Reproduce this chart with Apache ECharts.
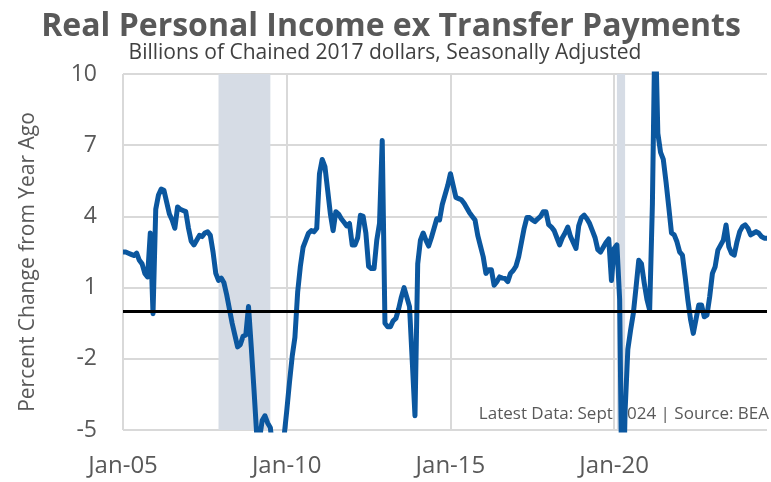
<!DOCTYPE html>
<html><head><meta charset="utf-8">
<script src="https://cdn.jsdelivr.net/npm/echarts@6/dist/echarts.min.js"></script>
<style>html,body{margin:0;padding:0;background:#fff}#c{width:771px;height:482px}</style>
</head><body><div id="c"></div>
<script>
// ---- data ----
const startYear = 2005;
const monthNames = ['Jan','Feb','Mar','Apr','May','Jun','Jul','Aug','Sep','Oct','Nov','Dec'];
// Year-over-year % change, monthly Jan-2005 .. Sep-2024
const values = [
  2.5, 2.5, 2.45, 2.4, 2.35, 2.45, 2.15, 2.0, 1.6, 1.45, 3.3, -0.1,      // 2005
  4.3, 4.9, 5.15, 5.1, 4.6, 4.1, 3.85, 3.5, 4.4, 4.3, 4.25, 4.2,        // 2006
  3.5, 2.95, 2.8, 3.0, 3.2, 3.15, 3.3, 3.35, 3.2, 2.5, 1.6, 1.3,        // 2007
  1.4, 1.2, 0.7, 0.1, -0.5, -1.0, -1.5, -1.4, -1.05, -1.0, 0.2, -1.5,   // 2008
  -3.3, -5.2, -5.4, -4.6, -4.4, -4.7, -4.9, -6.0, -6.6, -6.4, -6.0, -5.3, // 2009
  -4.2, -3.0, -1.9, -1.1, 0.8, 1.9, 2.7, 3.0, 3.3, 3.4, 3.35, 3.5,      // 2010
  5.8, 6.4, 6.1, 5.1, 4.1, 3.4, 4.2, 4.1, 3.9, 3.75, 3.6, 3.7,          // 2011
  2.8, 2.8, 3.1, 4.05, 4.0, 3.3, 1.9, 1.8, 1.8, 3.0, 3.7, 7.2,          // 2012
  -0.5, -0.65, -0.65, -0.4, -0.3, 0.1, 0.6, 1.0, 0.6, 0.2, -2.1, -4.4,  // 2013
  2.0, 3.0, 3.3, 3.0, 2.75, 3.1, 3.5, 3.9, 3.85, 4.5, 4.9, 5.3,         // 2014
  5.8, 5.3, 4.8, 4.75, 4.7, 4.55, 4.35, 4.15, 4.0, 3.85, 3.2, 2.75,     // 2015
  2.3, 1.6, 1.75, 1.75, 1.1, 1.25, 1.45, 1.4, 1.38, 1.25, 1.6, 1.72,    // 2016
  1.9, 2.3, 2.9, 3.5, 3.95, 3.95, 3.85, 3.78, 3.9, 4.0, 4.2, 4.2,       // 2017
  3.65, 3.55, 3.4, 3.1, 2.8, 3.1, 3.3, 3.55, 3.15, 2.9, 2.65, 3.6,      // 2018
  3.95, 4.05, 3.9, 3.7, 3.4, 3.1, 2.6, 2.5, 2.7, 2.9, 3.05, 1.3,        // 2019
  2.65, 2.8, 0.5, -9.5, -4.2, -1.6, -0.8, -0.1, 1.0, 2.15, 2.0, 1.2,    // 2020
  0.5, 0.05, 4.5, 12.5, 7.5, 6.7, 6.4, 5.45, 4.4, 3.3, 3.22, 2.93,      // 2021
  2.5, 2.37, 1.46, 0.48, -0.36, -0.93, -0.32, 0.27, 0.27, -0.23, -0.16, 0.62, // 2022
  1.6, 1.88, 2.58, 2.79, 3.0, 3.64, 2.72, 2.44, 2.37, 2.93, 3.36, 3.57, // 2023
  3.64, 3.5, 3.22, 3.29, 3.36, 3.29, 3.15, 3.08, 3.08                   // 2024
];
const yTicks = [-5, -2, 1, 4, 7, 10];
const xLabelYears = [2005, 2010, 2015, 2020];
const recessions = [['2007-12', '2009-07'], ['2020-02', '2020-05']];

// categories 'YYYY-MM'
const categories = values.map(function (_, i) {
  const y = startYear + Math.floor(i / 12), m = i % 12 + 1;
  return y + '-' + (m < 10 ? '0' + m : m);
});
function isLabelIdx(i) {
  const c = categories[i];
  return c.slice(5) === '01' && xLabelYears.indexOf(+c.slice(0, 4)) >= 0;
}

const FONT = '"Open Sans"';
const chart = echarts.init(document.getElementById('c'), null, { renderer: 'canvas' });
chart.setOption({
  animation: false,
  backgroundColor: '#fff',
  textStyle: { fontFamily: FONT },
  graphic: [
    { type: 'text', x: 391, y: 11, style: { text: 'Real Personal Income ex Transfer Payments', font: 'bold 32px ' + FONT, fill: '#595959', align: 'center', verticalAlign: 'top' } },
    { type: 'text', x: 385, y: 43, style: { text: 'Billions of Chained 2017 dollars, Seasonally Adjusted', font: '21px ' + FONT, fill: '#404040', align: 'center', verticalAlign: 'top' } },
    { type: 'text', right: 2, top: 406, style: { text: 'Latest Data: Sept 2024 | Source: BEA', font: '17px ' + FONT, fill: '#595959' } },
    { type: 'text', x: 28, y: 262, rotation: Math.PI / 2, style: { text: 'Percent Change from Year Ago', font: '21px ' + FONT, fill: '#595959', align: 'center', verticalAlign: 'middle' } }
  ],
  grid: { left: 123, right: 4, top: 74, bottom: 52 },
  xAxis: {
    type: 'category', data: categories, boundaryGap: false,
    axisLine: { show: false }, axisTick: { show: false },
    axisLabel: {
      interval: function (i) { return isLabelIdx(i); },
      formatter: function (v) { return monthNames[+v.slice(5) - 1] + '-' + v.slice(2, 4); },
      fontSize: 24, color: '#595959', margin: 24, fontFamily: FONT
    },
    splitLine: { show: true, interval: function (i) { return isLabelIdx(i); }, lineStyle: { color: '#d9d9d9', width: 2 } }
  },
  yAxis: [
    { type: 'value', min: yTicks[0], max: yTicks[yTicks.length - 1], show: false },
    {
      type: 'value', position: 'left',
      min: 0, max: yTicks[yTicks.length - 1] - yTicks[0], interval: yTicks[1] - yTicks[0],
      axisLine: { show: false }, axisTick: { show: false },
      axisLabel: { formatter: function (v) { return String(v + yTicks[0]); }, fontSize: 23, color: '#595959', margin: 26, fontFamily: FONT },
      splitLine: { show: true, lineStyle: { color: '#d9d9d9', width: 2 } }
    }
  ],
  series: [{
    type: 'line', yAxisIndex: 0, data: values, showSymbol: false, symbol: 'none',
    lineStyle: { color: '#0b579f', width: 5, join: 'round' },
    markArea: {
      silent: true, itemStyle: { color: '#d6dce5' },
      data: recessions.map(function (r) { return [{ xAxis: r[0] }, { xAxis: r[1] }]; })
    },
    markLine: {
      silent: true, symbol: 'none', label: { show: false },
      lineStyle: { color: '#000', width: 3, type: 'solid' },
      data: [{ yAxis: 0 }]
    }
  }]
});
</script></body></html>
